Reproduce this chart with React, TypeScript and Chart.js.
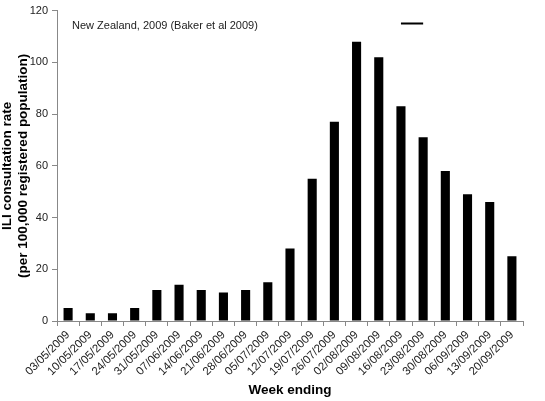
import React, { useEffect, useRef } from "react";
import { Chart, registerables } from "chart.js";

Chart.register(...registerables);

const weeks = [
  "03/05/2009", "10/05/2009", "17/05/2009", "24/05/2009", "31/05/2009",
  "07/06/2009", "14/06/2009", "21/06/2009", "28/06/2009", "05/07/2009",
  "12/07/2009", "19/07/2009", "26/07/2009", "02/08/2009", "09/08/2009",
  "16/08/2009", "23/08/2009", "30/08/2009", "06/09/2009", "13/09/2009",
  "20/09/2009",
];
const rates = [5, 3, 3, 5, 12, 14, 12, 11, 12, 15, 28, 55, 77, 108, 102, 83, 71, 58, 49, 46, 25];
const markerLine = [null, null, null, null, null, null, null, null, null, null, null, null, null, null, null, 115, 115, null, null, null, null];
const yTicks = [0, 20, 40, 60, 80, 100, 120];
const annotation = "New Zealand, 2009 (Baker et al 2009)";

const FONT = "'Liberation Sans', Arial, sans-serif";

const textPlugin = {
  id: "annotText",
  afterDraw(chart: any) {
    const { ctx, chartArea } = chart;
    ctx.save();
    ctx.font = `11px ${FONT}`;
    ctx.fillStyle = "#222";
    ctx.textBaseline = "middle";
    ctx.textAlign = "left";
    ctx.fillText(annotation, chartArea.left + 15, 26);
    ctx.restore();
  },
};

export default function App() {
  const ref = useRef<HTMLCanvasElement>(null);
  useEffect(() => {
    const chart = new Chart(ref.current!, {
      type: "bar",
      data: {
        labels: weeks,
        datasets: [
          {
            type: "bar",
            data: rates,
            backgroundColor: "#000",
            borderWidth: 0,
            barPercentage: 0.41,
            categoryPercentage: 1,
          } as any,
          {
            type: "line",
            data: markerLine,
            borderColor: "#000",
            borderWidth: 2,
            pointRadius: 0,
            fill: false,
          } as any,
        ],
      },
      plugins: [textPlugin],
      options: {
        animation: false,
        responsive: false,
        maintainAspectRatio: false,
        layout: { padding: { top: 5, right: 22, left: 0, bottom: 0 } },
        plugins: { legend: { display: false }, tooltip: { enabled: false } },
        scales: {
          x: {
            offset: true,
            grid: {
              offset: true,
              drawOnChartArea: false,
              drawTicks: true,
              tickLength: 5,
              color: "#888",
            },
            border: { color: "#888" },
            ticks: {
              color: "#222",
              font: { family: FONT, size: 11.5 },
              minRotation: 45,
              maxRotation: 45,
              autoSkip: false,
              padding: 2,
            },
            title: {
              display: true,
              text: "Week ending",
              color: "#000",
              font: { family: FONT, size: 13.5, weight: "bold" },
              padding: { top: 2, bottom: 3 },
            },
            afterFit(scale: any) {
              scale.height = 80;
            },
          },
          y: {
            min: 0,
            max: 120,
            afterBuildTicks(scale: any) {
              scale.ticks = yTicks.map((v) => ({ value: v }));
            },
            grid: {
              drawOnChartArea: false,
              drawTicks: true,
              tickLength: 5,
              color: "#888",
            },
            border: { color: "#888" },
            ticks: {
              color: "#222",
              font: { family: FONT, size: 11 },
              padding: 4,
            },
            title: {
              display: true,
              text: ["ILI consultation rate", "(per 100,000 registered population)"],
              color: "#000",
              font: { family: FONT, size: 13.5, weight: "bold", lineHeight: 1.15 },
              padding: { top: 0, bottom: 2 },
            },
            afterFit(scale: any) {
              scale.width = 57;
            },
          },
        },
      },
    });
    return () => chart.destroy();
  }, []);
  return (
    <div style={{ position: "fixed", left: 0, top: 0, width: 545, height: 401, background: "#fff" }}>
      <canvas ref={ref} width={545} height={401} style={{ width: 545, height: 401 }} />
    </div>
  );
}
